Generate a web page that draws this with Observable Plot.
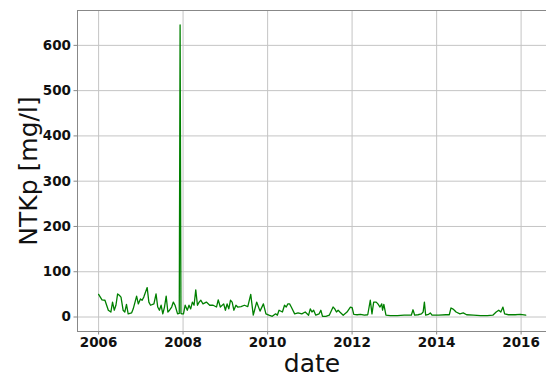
<!DOCTYPE html>
<html>
<head>
<meta charset="utf-8">
<script src="https://cdn.jsdelivr.net/npm/d3@7"></script>
<script src="https://cdn.jsdelivr.net/npm/@observablehq/plot@0.6"></script>
<style>
  html, body { margin: 0; padding: 0; background: white; }
</style>
</head>
<body>
<div id="chart"></div>
<script>
// decimal years of samples
const years = [
  2006.00, 2006.04, 2006.08, 2006.15, 2006.19, 2006.23, 2006.29, 2006.33, 2006.37, 2006.41,
  2006.45, 2006.49, 2006.53, 2006.58, 2006.62, 2006.66, 2006.70, 2006.78, 2006.82, 2006.90,
  2006.94, 2006.99, 2007.03, 2007.07, 2007.15, 2007.19, 2007.23, 2007.31, 2007.36, 2007.40,
  2007.44, 2007.48, 2007.52, 2007.56, 2007.60, 2007.64, 2007.68, 2007.73, 2007.77, 2007.81,
  2007.87, 2007.91, 2007.93, 2007.95, 2007.97, 2008.01, 2008.05, 2008.10, 2008.14, 2008.18,
  2008.22, 2008.26, 2008.30, 2008.34, 2008.38, 2008.42, 2008.47, 2008.55, 2008.63, 2008.71,
  2008.79, 2008.83, 2008.88, 2008.96, 2009.00, 2009.04, 2009.08, 2009.12, 2009.16, 2009.20,
  2009.25, 2009.29, 2009.37, 2009.45, 2009.53, 2009.60, 2009.66, 2009.74, 2009.82, 2009.90,
  2009.96, 2010.03, 2010.11, 2010.19, 2010.23, 2010.27, 2010.35, 2010.40, 2010.44, 2010.48,
  2010.52, 2010.56, 2010.64, 2010.72, 2010.81, 2010.89, 2010.97, 2011.01, 2011.05, 2011.09,
  2011.14, 2011.22, 2011.26, 2011.30, 2011.38, 2011.46, 2011.55, 2011.59, 2011.63, 2011.67,
  2011.71, 2011.79, 2011.88, 2011.96, 2012.00, 2012.04, 2012.12, 2012.20, 2012.29, 2012.37,
  2012.43, 2012.47, 2012.51, 2012.57, 2012.61, 2012.66, 2012.70, 2012.72, 2012.75, 2012.80,
  2012.90, 2013.07, 2013.23, 2013.40, 2013.44, 2013.48, 2013.56, 2013.64, 2013.68, 2013.71,
  2013.74, 2013.81, 2013.85, 2013.89, 2014.05, 2014.22, 2014.30, 2014.34, 2014.38, 2014.42,
  2014.46, 2014.55, 2014.63, 2014.71, 2014.87, 2015.04, 2015.20, 2015.33, 2015.41, 2015.47,
  2015.52, 2015.57, 2015.61, 2015.70, 2015.86, 2015.98, 2016.11
];
// NTKp values [mg/l]
const values = [
  50, 44, 38, 37, 26, 15, 11, 33, 15, 26,
  51, 48, 44, 15, 11, 28, 7, 9, 18, 46,
  29, 40, 37, 44, 65, 33, 26, 29, 51, 22,
  15, 26, 7, 22, 46, 11, 15, 22, 33, 26,
  7, 8, 645, 8, 7, 7, 26, 15, 26, 18,
  33, 26, 60, 26, 33, 37, 29, 33, 26, 26,
  22, 38, 22, 29, 15, 29, 18, 37, 33, 15,
  26, 22, 23, 26, 23, 50, 4, 33, 13, 29,
  7, 4, 1.5, 7, 4, 15, 11, 26, 22, 29,
  29, 22, 7, 9, 7, 11, 4, 18, 11, 15,
  4, 7, 15, 1.5, 1.5, 4, 22, 18, 11, 15,
  11, 4, 11, 22, 21, 6, 5, 6, 4, 5,
  37, 7, 33, 33, 29, 22, 29, 15, 28, 4,
  3, 3, 4, 4, 16, 4, 5, 7, 11, 33,
  4, 6, 9, 4, 4, 5, 5, 20, 18, 15,
  11, 7, 9, 5, 4, 3, 3, 4, 11, 15,
  11, 22, 7, 5, 5, 6, 4
];
const xTickYears = [2006, 2008, 2010, 2012, 2014, 2016];
const yTicks = [0, 100, 200, 300, 400, 500, 600];

const toDate = y => {
  const yr = Math.floor(y);
  const s = Date.UTC(yr, 0, 1), e = Date.UTC(yr + 1, 0, 1);
  return new Date(s + (y - yr) * (e - s));
};
const data = years.map((y, i) => ({date: toDate(y), value: values[i]}));
const xTicks = xTickYears.map(y => new Date(Date.UTC(y, 0, 1)));

const chart = Plot.plot({
  width: 546,
  height: 378,
  marginTop: 10,
  marginBottom: 47,
  marginLeft: 77,
  marginRight: 0,
  style: {fontFamily: "DejaVu Sans", background: "white", color: "#111"},
  x: {type: "utc", domain: [toDate(2005.5), toDate(2016.6)]},
  y: {domain: [-32, 677]},
  marks: [
    Plot.gridX(xTicks, {stroke: "#c4c4c4", strokeOpacity: 1, strokeWidth: 1}),
    Plot.gridY(yTicks, {stroke: "#c4c4c4", strokeOpacity: 1, strokeWidth: 1}),
    Plot.axisX(xTicks, {tickFormat: d => String(d.getUTCFullYear()), fontWeight: "bold", fontSize: 13.5,
      tickSize: 3.5, tickPadding: 2, label: null, stroke: "#888"}),
    Plot.axisY(yTicks, {fontWeight: "bold", fontSize: 13.5, tickSize: 3.5, tickPadding: 3,
      label: null, stroke: "#888"}),
    Plot.line(data, {x: "date", y: "value", stroke: "#008000", strokeWidth: 1.3}),
    Plot.frame({stroke: "#888", strokeWidth: 1}),
    Plot.text(["NTKp [mg/l]"], {frameAnchor: "left", dx: -49, rotate: -90, fontSize: 25,
      textAnchor: "middle", lineAnchor: "middle"}),
    Plot.text(["date"], {frameAnchor: "bottom", dy: 32, fontSize: 25,
      textAnchor: "middle", lineAnchor: "middle"})
  ]
});
document.getElementById("chart").appendChild(chart);
</script>
</body>
</html>
